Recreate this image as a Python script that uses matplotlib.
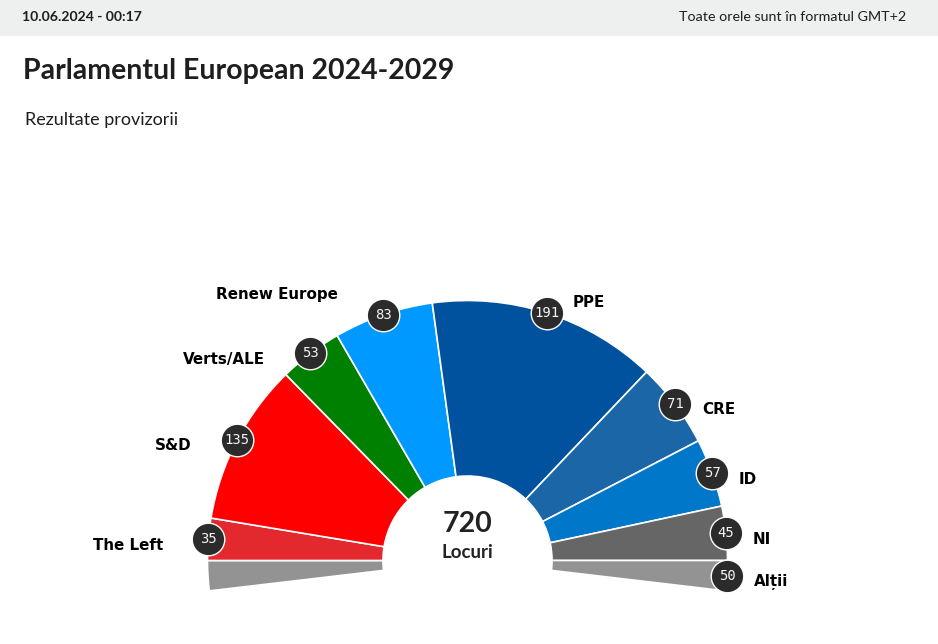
import matplotlib
matplotlib.use('Agg')
import numpy as np
from matplotlib import pyplot as plt
from matplotlib.patches import Rectangle

#groups, left to right. "Alții" is split in two halves, one on each end of the arc
groups = ['Alții', 'The Left', 'S&D', 'Verts/ALE', 'Renew Europe', 'PPE', 'CRE', 'ID', 'NI', 'Alții']
seats = [25, 35, 135, 53, 83, 191, 71, 57, 45, 25]
bubbles = ['', '35', '135', '53', '83', '191', '71', '57', '45', '50']
colors = ['#939393', '#e4292e', '#ff0000', '#008000', '#0099ff', '#00529e', '#1a66a6', '#0077c8', '#666666', '#939393']

#label anchors in picture pixels (left edge, middle)
label_x = [0, 93, 155, 183, 216, 573, 702, 739, 753, 754]
label_y = [0, 545.5, 446, 359, 294, 302, 410, 479, 540, 582]

W, H = 938, 644
cx, cy = 467.5, H - 560.5
outer = 260
inner = 84.5

plt.rcParams['font.family'] = ['Lato', 'DejaVu Sans']
fig = plt.figure(figsize=(W / 100, H / 100), dpi=100)
ax = fig.add_axes([0, 0, 1, 1])

#the groups without the two end halves fill exactly half a circle
half = sum(seats[1:-1])
hidden = 2 * half - sum(seats)
start = 180 + seats[0] * 180 / half
wedges, _ = ax.pie(seats + [hidden], colors=colors + ['white'], center=(cx, cy), radius=outer,
	startangle=start, counterclock=False, frame=True,
	wedgeprops=dict(width=outer - inner, edgecolor='white', linewidth=1.2))
wedges[-1].set_visible(False)

ax.set_xlim(0, W)
ax.set_ylim(0, H)
ax.set_aspect('equal')
ax.axis('off')

#header
ax.add_patch(Rectangle((0, H - 36), W, 36, color='#eef0ef', lw=0, zorder=1))
ax.text(22, H - 17, '10.06.2024 - 00:17', fontsize=10.1, fontweight='bold', color='#1e1e1e', va='center')
ax.text(906, H - 17, 'Toate orele sunt în formatul GMT+2', fontsize=10.25, color='#1e1e1e', va='center', ha='right')
ax.text(23, H - 71, 'Parlamentul European 2024-2029', fontsize=20.5, fontweight='bold', color='#1e1e1e', va='center')
ax.text(25, H - 120, 'Rezultate provizorii', fontsize=13, color='#1e1e1e', va='center')

ax.text(cx, H - 523.5, '720', fontsize=20.5, fontweight='bold', color='#222222', ha='center', va='center')
ax.text(cx, H - 553, 'Locuri', fontsize=13.5, fontweight='bold', color='#222222', ha='center', va='center')

#seat bubbles sit on the outer rim at the middle of the slice
done = 0
for i, n in enumerate(seats):
	mid = start - (done + n / 2) * 180 / half
	done += n
	if bubbles[i] == '':
		continue
	a = np.radians(mid)
	x = cx + outer * np.cos(a)
	y = cy + outer * np.sin(a)
	ax.scatter([x], [y], s=550, color='#2b2b2b', edgecolor='white', linewidth=1.0, zorder=5)
	ax.text(x, y, bubbles[i], family='DejaVu Sans Mono', fontsize=10, color='#f4f4f4', ha='center', va='center', zorder=6)
	ax.text(label_x[i], H - label_y[i], groups[i], family='DejaVu Sans', fontsize=10.9, fontweight='bold', color='black', va='center')

fig.savefig('out.png', dpi=100)
